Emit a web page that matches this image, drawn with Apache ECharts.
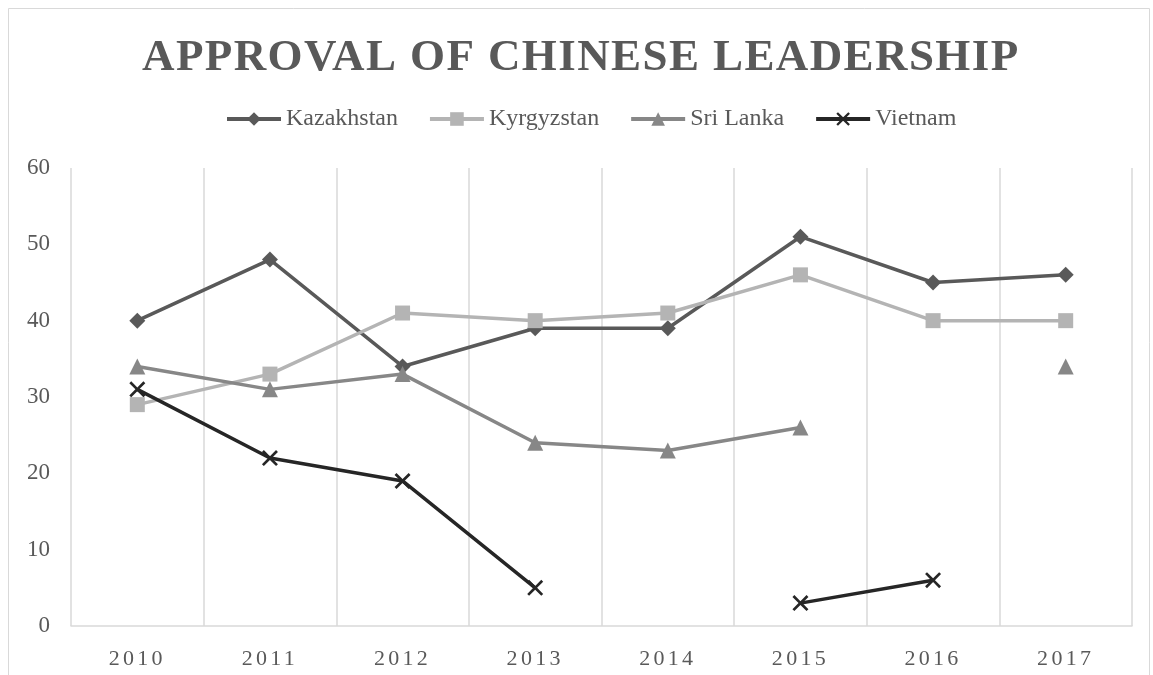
<!DOCTYPE html>
<html>
<head>
<meta charset="utf-8">
<style>
html,body{margin:0;padding:0;background:#fff;}
#chart{width:1153px;height:675px;}
</style>
<script src="https://cdn.jsdelivr.net/npm/echarts@6/dist/echarts.min.js"></script>
</head>
<body>
<div id="chart"></div>
<script>
const titleText = 'APPROVAL OF CHINESE LEADERSHIP';
const years = ['2010','2011','2012','2013','2014','2015','2016','2017'];
const kazakhstan = [40, 48, 34, 39, 39, 51, 45, 46];
const kyrgyzstan = [29, 33, 41, 40, 41, 46, 40, 40];
const sriLanka   = [34, 31, 33, 24, 23, 26, null, 34];
const vietnam    = [31, 22, 19, 5, null, 3, 6, null];
const yTicks = {min: 0, max: 60, interval: 10};

// Letter spacing for the title and year labels (as in the original chart)
(function () {
  const P = CanvasRenderingContext2D.prototype;
  if (!('letterSpacing' in P)) return;
  const orig = P.fillText;
  P.fillText = function (text, x, y, maxW) {
    let sp = '0px';
    if (years.indexOf(text) >= 0) sp = '3.3px';
    else if (text === titleText) sp = '1.4px';
    const f = this.font;
    this.letterSpacing = sp;
    this.font = f;
    const r = maxW === undefined ? orig.call(this, text, x, y) : orig.call(this, text, x, y, maxW);
    this.letterSpacing = '0px';
    this.font = f;
    return r;
  };
})();

const serif = '"Liberation Serif", "Times New Roman", serif';
const xPath = 'path://M0,1.2L1.2,0L5,3.8L8.8,0L10,1.2L6.2,5L10,8.8L8.8,10L5,6.2L1.2,10L0,8.8L3.8,5Z';

function mk(name, data, color, symbol, size) {
  return {
    name, type: 'line', data,
    symbol, symbolSize: size,
    showSymbol: true, showAllSymbol: true,
    connectNulls: false,
    lineStyle: {color, width: 3.5},
    itemStyle: {color},
    emphasis: {disabled: true}
  };
}

const chart = echarts.init(document.getElementById('chart'), null, {renderer: 'canvas'});
chart.setOption({
  animation: false,
  backgroundColor: '#fff',
  graphic: [{
    type: 'rect', silent: true,
    shape: {x: 8.5, y: 8.5, width: 1141, height: 700},
    style: {fill: 'none', stroke: '#d9d9d9', lineWidth: 1}
  }],
  title: {
    text: titleText, left: 137, top: 31,
    textStyle: {fontFamily: serif, fontWeight: 'bold', fontSize: 45, color: '#595959'}
  },
  legend: {
    top: 107, left: 225, padding: 0,
    itemWidth: 54, itemHeight: 17, itemGap: 30,
    lineStyle: {width: 4},
    textStyle: {fontFamily: serif, fontSize: 24, color: '#595959'},
    data: ['Kazakhstan', 'Kyrgyzstan', 'Sri Lanka', 'Vietnam']
  },
  grid: {left: 71, right: 21, top: 168, bottom: 49, containLabel: false},
  xAxis: {
    type: 'category', data: years, boundaryGap: true,
    axisLine: {lineStyle: {color: '#d9d9d9', width: 1.5}},
    axisTick: {show: false},
    splitLine: {show: true, interval: 0, lineStyle: {color: '#d9d9d9', width: 1.5}},
    axisLabel: {fontFamily: serif, fontSize: 22, color: '#595959', margin: 22, interval: 0}
  },
  yAxis: {
    type: 'value', min: yTicks.min, max: yTicks.max, interval: yTicks.interval,
    axisLine: {show: false}, axisTick: {show: false}, splitLine: {show: false},
    axisLabel: {fontFamily: serif, fontSize: 23, color: '#595959', margin: 21}
  },
  series: [
    mk('Kazakhstan', kazakhstan, '#595959', 'diamond', 16),
    mk('Kyrgyzstan', kyrgyzstan, '#b4b4b4', 'rect', 15),
    mk('Sri Lanka', sriLanka, '#878787', 'triangle', 16),
    mk('Vietnam', vietnam, '#262626', xPath, 16)
  ]
});
</script>
</body>
</html>
